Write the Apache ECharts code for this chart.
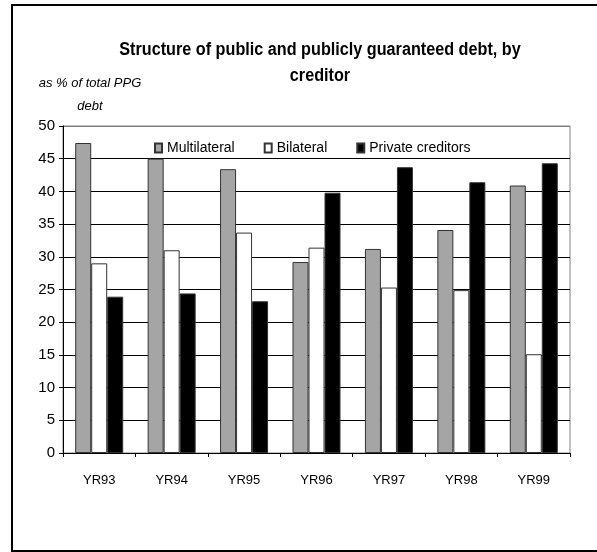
<!DOCTYPE html>
<html>
<head>
<meta charset="utf-8">
<script src="https://cdn.jsdelivr.net/npm/echarts@6/dist/echarts.min.js"></script>
<style>
html,body{margin:0;padding:0;background:#fff;}
#chart{width:597px;height:552px;}
</style>
</head>
<body>
<div id="chart"></div>
<script>
const categories = ['YR93','YR94','YR95','YR96','YR97','YR98','YR99'];
const multilateral = [47.4, 45.0, 43.4, 29.2, 31.2, 34.1, 40.9];
const bilateral = [29.0, 31.0, 33.7, 31.4, 25.3, 24.9, 15.1];
const privateCreditors = [23.9, 24.4, 23.2, 39.8, 43.7, 41.4, 44.3];
const yTicks = [0, 5, 10, 15, 20, 25, 30, 35, 40, 45, 50];

const REG = "'Liberation Sans', Arial, sans-serif";

const chart = echarts.init(document.getElementById('chart'), null, {renderer: 'canvas'});
const splitColors = yTicks.map((v, i) => i === yTicks.length - 1 ? '#808080' : '#000');

const option = {
  animation: false,
  backgroundColor: '#fff',
  graphic: [
    {type: 'rect', shape: {x: 12, y: 5, width: 620, height: 546}, style: {fill: 'none', stroke: '#000', lineWidth: 2}, z: 0},
    {type: 'text', x: 320, y: 63, scaleX: 0.9, style: {text: 'Structure of public and publicly guaranteed debt, by\ncreditor', align: 'center', verticalAlign: 'middle', font: "bold 18px " + REG, lineHeight: 26, fill: '#000'}},
    {type: 'text', x: 90, y: 95, style: {text: 'as % of total PPG\ndebt', align: 'center', verticalAlign: 'middle', font: "italic 13px " + REG, lineHeight: 23, fill: '#000'}}
  ],
  grid: {left: 63, right: 27, top: 126, bottom: 99, show: true, borderColor: '#808080', borderWidth: 1, backgroundColor: 'transparent'},
  legend: {
    left: 149, top: 135, itemWidth: 7, itemHeight: 9, itemGap: 29, icon: 'rect',
    textStyle: {fontFamily: REG, fontSize: 14, color: '#000', lineHeight: 16},
    data: ['Multilateral', 'Bilateral', 'Private creditors']
  },
  xAxis: {
    type: 'category', data: categories,
    axisLine: {lineStyle: {color: '#000', width: 1}},
    axisTick: {show: true, length: 4, alignWithLabel: false, lineStyle: {color: '#000'}},
    axisLabel: {fontFamily: REG, fontSize: 13, color: '#000', margin: 21},
    splitLine: {show: false}
  },
  yAxis: {
    type: 'value', min: 0, max: 50, interval: 5,
    axisLine: {show: true, lineStyle: {color: '#000', width: 1}},
    axisTick: {show: true, length: 4, lineStyle: {color: '#000'}},
    axisLabel: {fontFamily: REG, fontSize: 15, color: '#000', margin: 8},
    splitLine: {show: true, lineStyle: {color: splitColors, width: 1}}
  },
  series: [
    {name: 'Multilateral', type: 'bar', data: multilateral, barWidth: 16, barGap: '0%', itemStyle: {color: '#a5a5a5', borderColor: '#333', borderWidth: 1}},
    {name: 'Bilateral', type: 'bar', data: bilateral, barWidth: 16, barGap: '0%', itemStyle: {color: '#fff', borderColor: '#333', borderWidth: 1}},
    {name: 'Private creditors', type: 'bar', data: privateCreditors, barWidth: 16, barGap: '0%', itemStyle: {color: '#000', borderColor: '#333', borderWidth: 1}}
  ]
};
chart.setOption(option);
</script>
</body>
</html>
